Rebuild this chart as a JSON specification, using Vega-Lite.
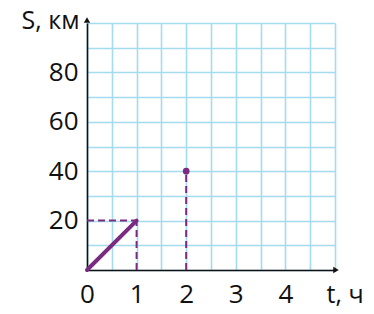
{
  "$schema": "https://vega.github.io/schema/vega-lite/v6.json",
  "width": 248,
  "height": 247,
  "autosize": "none",
  "padding": {"left": 87, "top": 23, "right": 39, "bottom": 44},
  "background": "white",
  "config": {
    "view": {"stroke": null},
    "font": "Open Sans",
    "axis": {
      "labelFont": "Open Sans",
      "titleFont": "Open Sans",
      "labelFontSize": 26,
      "titleFontSize": 25,
      "labelColor": "#111111",
      "titleColor": "#111111",
      "titleFontWeight": "normal",
      "labelFontWeight": "normal",
      "gridColor": "#a3dcee",
      "gridWidth": 1.6,
      "gridOpacity": 1,
      "domainColor": "#111111",
      "domainWidth": 1.6,
      "ticks": false,
      "labelFlush": false,
      "labelOverlap": false,
      "labelBound": false
    }
  },
  "datasets": {
    "seg": [{"t": 0, "s": 0}, {"t": 1, "s": 20}],
    "guides": [
      {"t": 0, "s": 20, "t2": 1, "s2": 20},
      {"t": 1, "s": 0, "t2": 1, "s2": 20},
      {"t": 2, "s": 0, "t2": 2, "s2": 40}
    ],
    "dot": [{"t": 2, "s": 40}],
    "xarrow": [{"t": 5, "s": 0}],
    "yarrow": [{"t": 0, "s": 100}]
  },
  "encoding": {
    "x": {
      "field": "t",
      "type": "quantitative",
      "scale": {"domain": [0, 5], "nice": false, "zero": false},
      "axis": {
        "values": [0, 0.5, 1, 1.5, 2, 2.5, 3, 3.5, 4, 4.5, 5],
        "labelExpr": "datum.value % 1 === 0 && datum.value < 5 ? '' + datum.value : ''",
        "labelBaseline": "alphabetic",
        "labelPadding": 32,
        "title": "t, ч",
        "titleAnchor": null,
        "titleAlign": "left",
        "titleBaseline": "alphabetic",
        "titleX": 239,
        "titleY": 32
      }
    },
    "y": {
      "field": "s",
      "type": "quantitative",
      "scale": {"domain": [0, 100], "nice": false, "zero": false},
      "axis": {
        "values": [0, 10, 20, 30, 40, 50, 60, 70, 80, 90, 100],
        "labelExpr": "datum.value % 20 === 0 && datum.value > 0 && datum.value < 100 ? '' + datum.value : ''",
        "labelBaseline": "middle",
        "labelPadding": 9,
        "title": "S, км",
        "titleAngle": 0,
        "titleAnchor": null,
        "titleAlign": "right",
        "titleBaseline": "alphabetic",
        "titleX": -8,
        "titleY": 5
      }
    }
  },
  "layer": [
    {
      "data": {"name": "guides"},
      "mark": {"type": "rule", "color": "#7a2a80", "strokeWidth": 2, "strokeDash": [7, 4]},
      "encoding": {
        "x2": {"field": "t2"},
        "y2": {"field": "s2"}
      }
    },
    {
      "data": {"name": "seg"},
      "mark": {"type": "line", "color": "#7a2a80", "strokeWidth": 4, "strokeCap": "round"}
    },
    {
      "data": {"name": "dot"},
      "mark": {"type": "point", "filled": true, "color": "#7a2a80", "size": 45, "opacity": 1}
    },
    {
      "data": {"name": "xarrow"},
      "mark": {"type": "point", "filled": true, "color": "#111111", "shape": "triangle-right", "size": 40, "opacity": 1, "xOffset": 1, "clip": false}
    },
    {
      "data": {"name": "yarrow"},
      "mark": {"type": "point", "filled": true, "color": "#111111", "shape": "triangle-up", "size": 40, "opacity": 1, "yOffset": -3, "clip": false}
    }
  ]
}
